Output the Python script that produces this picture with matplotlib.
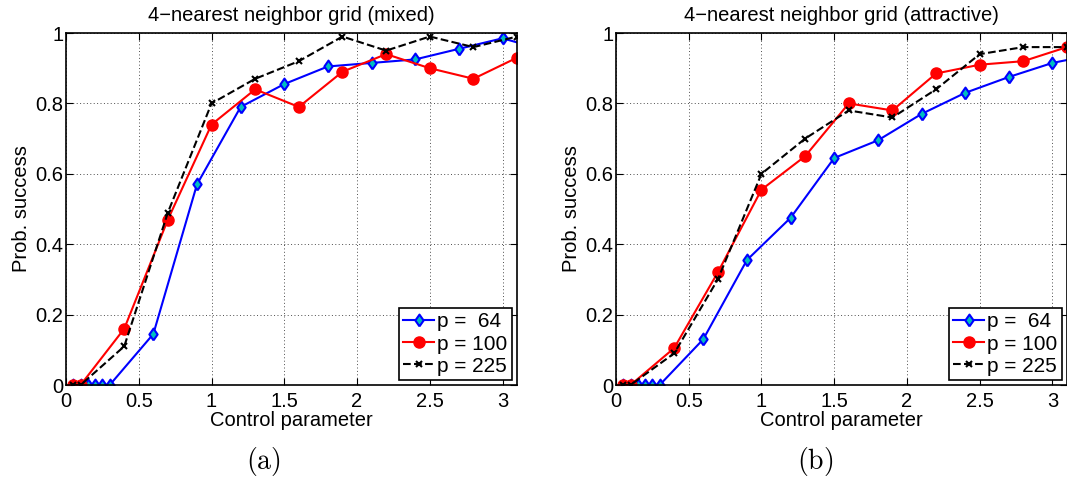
import numpy as np
import matplotlib
matplotlib.use('Agg')
import matplotlib.pyplot as plt

plt.rcParams['font.family'] = ['Liberation Sans', 'DejaVu Sans']

# x positions (blue series is sampled finer near zero)
x_64 = [0.05, 0.1, 0.15, 0.2, 0.25, 0.3, 0.6, 0.9, 1.2, 1.5, 1.8, 2.1, 2.4, 2.7, 3.0, 3.3]
x_big = [0.05, 0.1, 0.4, 0.7, 1.0, 1.3, 1.6, 1.9, 2.2, 2.5, 2.8, 3.1]

# (a) mixed
mixed_64 = [0, 0, 0, 0, 0, 0, 0.145, 0.57, 0.79, 0.855, 0.905, 0.915, 0.925, 0.955, 0.985, 0.95]
mixed_100 = [0, 0, 0.16, 0.47, 0.74, 0.84, 0.79, 0.89, 0.94, 0.90, 0.87, 0.93]
mixed_225 = [0, 0, 0.11, 0.49, 0.80, 0.87, 0.92, 0.99, 0.95, 0.99, 0.96, 0.99]

# (b) attractive
attr_64 = [0, 0, 0, 0, 0, 0, 0.13, 0.355, 0.475, 0.645, 0.695, 0.77, 0.83, 0.875, 0.915, 0.94]
attr_100 = [0, 0, 0.105, 0.32, 0.555, 0.65, 0.80, 0.78, 0.885, 0.91, 0.92, 0.96]
attr_225 = [0, 0, 0.09, 0.30, 0.60, 0.70, 0.78, 0.76, 0.84, 0.94, 0.96, 0.96]

titles = ['4\u2212nearest neighbor grid (mixed)', '4\u2212nearest neighbor grid (attractive)']
captions = ['(a)', '(b)']
labels = ['p =  64', 'p = 100', 'p = 225']

# matlab-ish diamond (a bit wider than matplotlib's thin diamond)
diamond = [(0, -1), (0.7, 0), (0, 1), (-0.7, 0), (0, -1)]

fig = plt.figure(figsize=(10.67, 4.82), dpi=100)
ax_a = fig.add_axes([0.0619, 0.2012, 0.4227, 0.7303])
ax_b = fig.add_axes([0.5773, 0.2012, 0.4227, 0.7303])

panels = [(ax_a, mixed_64, mixed_100, mixed_225),
          (ax_b, attr_64, attr_100, attr_225)]

for k, (ax, y64, y100, y225) in enumerate(panels):
    ax.plot(x_64, y64, '-', color='b', lw=1.5, marker=diamond, ms=8.5,
            mfc='c', mec='b', mew=1.5, label=labels[0])
    ax.plot(x_big, y100, '-', color='r', lw=1.5, marker='o', ms=8,
            mfc='r', mec='r', label=labels[1])
    ax.plot(x_big, y225, '--', color='k', lw=1.5, marker='x', ms=4,
            mew=1.5, label=labels[2])

    ax.set_xlim(0, 3.1)
    ax.set_ylim(0, 1)
    ax.set_xticks([0, 0.5, 1, 1.5, 2, 2.5, 3])
    ax.set_xticklabels(['0', '0.5', '1', '1.5', '2', '2.5', '3'])
    ax.set_yticks([0, 0.2, 0.4, 0.6, 0.8, 1])
    ax.set_yticklabels(['0', '0.2', '0.4', '0.6', '0.8', '1'])
    ax.tick_params(direction='in', top=True, right=True, length=5,
                   labelsize=14.5)
    ax.tick_params(axis='x', pad=5)
    ax.tick_params(axis='y', pad=2)
    ax.grid(True, linestyle=(0, (1, 2.5)), color='0.3', lw=0.7)
    for s in ax.spines.values():
        s.set_linewidth(1.2)

    ax.set_title(titles[k], fontsize=14.5, pad=9)
    ax.set_xlabel('Control parameter', fontsize=14.5, labelpad=0)
    ax.set_ylabel('Prob. success', fontsize=14.5, labelpad=3)

    leg = ax.legend(loc='lower right', fontsize=15, fancybox=False,
                    framealpha=1, edgecolor='k', handlelength=1.5,
                    handletextpad=0.15, borderpad=0.2, labelspacing=0.15,
                    borderaxespad=0.25)
    leg.get_frame().set_linewidth(1.2)

fig.text(263 / 1067, 1 - 462 / 482, r'$\mathrm{(a)}$', math_fontfamily='cm',
         fontsize=20, ha='center', va='center')
fig.text(815 / 1067, 1 - 462 / 482, r'$\mathrm{(b)}$', math_fontfamily='cm',
         fontsize=20, ha='center', va='center')

fig.savefig('out.png', dpi=100)
